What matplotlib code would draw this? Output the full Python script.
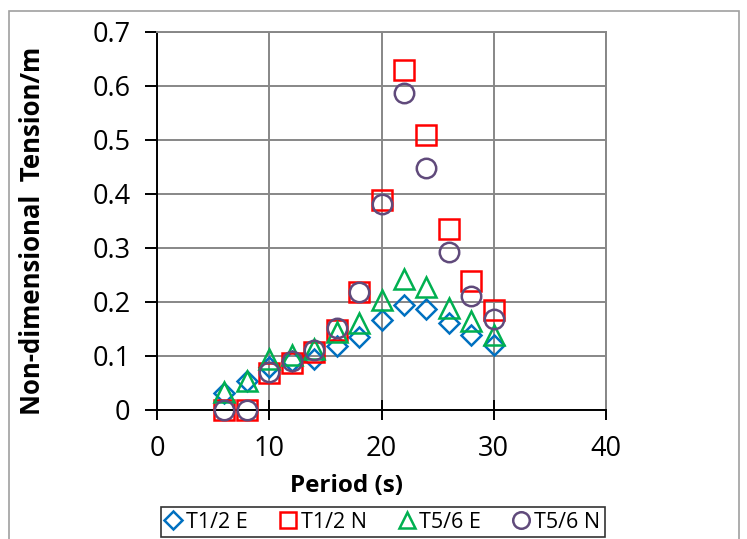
import matplotlib
matplotlib.use("Agg")
import matplotlib.pyplot as plt
from matplotlib.patches import Rectangle

plt.rcParams['font.family'] = ['Open Sans', 'DejaVu Sans']

# 周期 (s)
period = [6, 8, 10, 12, 14, 16, 18, 20, 22, 24, 26, 28, 30]

# 无量纲张力
t12_e = [0.032, 0.053, 0.079, 0.090, 0.095, 0.118, 0.135, 0.167, 0.195, 0.187, 0.162, 0.139, 0.120]
t12_n = [0.0, 0.0, 0.069, 0.087, 0.108, 0.148, 0.219, 0.389, 0.630, 0.509, 0.335, 0.238, 0.185]
t56_e = [0.034, 0.053, 0.095, 0.102, 0.113, 0.145, 0.162, 0.204, 0.242, 0.227, 0.188, 0.164, 0.139]
t56_n = [0.0, 0.0, 0.071, 0.090, 0.112, 0.151, 0.219, 0.382, 0.587, 0.449, 0.293, 0.211, 0.169]

series = [
    ("T1/2 E", t12_e, "D", "#0070C0", 10.5),
    ("T1/2 N", t12_n, "s", "#FF0000", 14),
    ("T5/6 E", t56_e, "^", "#00B050", 14),
    ("T5/6 N", t56_n, "o", "#604A7B", 14),
]

W, H = 747, 539
fig = plt.figure(figsize=(W / 100, H / 100), dpi=100)
ax = fig.add_axes([157 / W, 1 - 410 / H, (606 - 157) / W, (410 - 32) / H])

handles = []
for name, vals, mk, col, ms in series:
    h, = ax.plot(period, vals, linestyle="none", marker=mk, markersize=ms,
                 markerfacecolor="none", markeredgecolor=col, markeredgewidth=1.8,
                 label=name, clip_on=False, zorder=3)
    handles.append(h)

ax.set_xlim(0, 40)
ax.set_ylim(0, 0.7)
ax.set_xticks([0, 10, 20, 30, 40])
ax.set_yticks([0, 0.1, 0.2, 0.3, 0.4, 0.5, 0.6, 0.7])
ax.set_yticklabels(["0", "0.1", "0.2", "0.3", "0.4", "0.5", "0.6", "0.7"])
ax.grid(True, color="#878787", linewidth=1.4, zorder=0)
ax.set_axisbelow(True)

for side in ("top", "right"):
    ax.spines[side].set_color("#878787")
    ax.spines[side].set_linewidth(1.4)
for side in ("left", "bottom"):
    ax.spines[side].set_color("black")
    ax.spines[side].set_linewidth(1.4)

ax.tick_params(axis="y", direction="out", length=9, width=1.4, labelsize=19.5, pad=10)
ax.tick_params(axis="x", direction="inout", length=14, width=1.4, labelsize=19.5, pad=11)

ax.set_xlabel("Period (s)", fontsize=17.5, fontweight="bold")
ax.set_ylabel("Non-dimensional  Tension/m", fontsize=18.5, fontweight="bold")
# 标签位置（像素换算成坐标轴比例）
ax.xaxis.set_label_coords((346 - 157) / 449, (410 - 486) / 378)
ax.xaxis.label.set_verticalalignment("center")
ax.yaxis.set_label_coords((33 - 157) / 449, (410 - 231) / 378)
ax.yaxis.label.set_verticalalignment("center")

leg = fig.legend(handles=handles, loc="center", ncol=4,
                 bbox_to_anchor=(383 / W, 1 - 522 / H), fontsize=15.5,
                 frameon=True, fancybox=False, edgecolor="black",
                 handlelength=0.7, handletextpad=0.25, columnspacing=1.5,
                 borderpad=0.2, markerscale=0.85)
leg.get_frame().set_linewidth(1.2)

# 外框
fig.patches.append(Rectangle((9 / W, -0.05), (739 - 9) / W, 1.05 - 11 / H,
                             transform=fig.transFigure, fill=False,
                             edgecolor="#A0A0A0", linewidth=1.2))

fig.savefig("out.png", dpi=100)
